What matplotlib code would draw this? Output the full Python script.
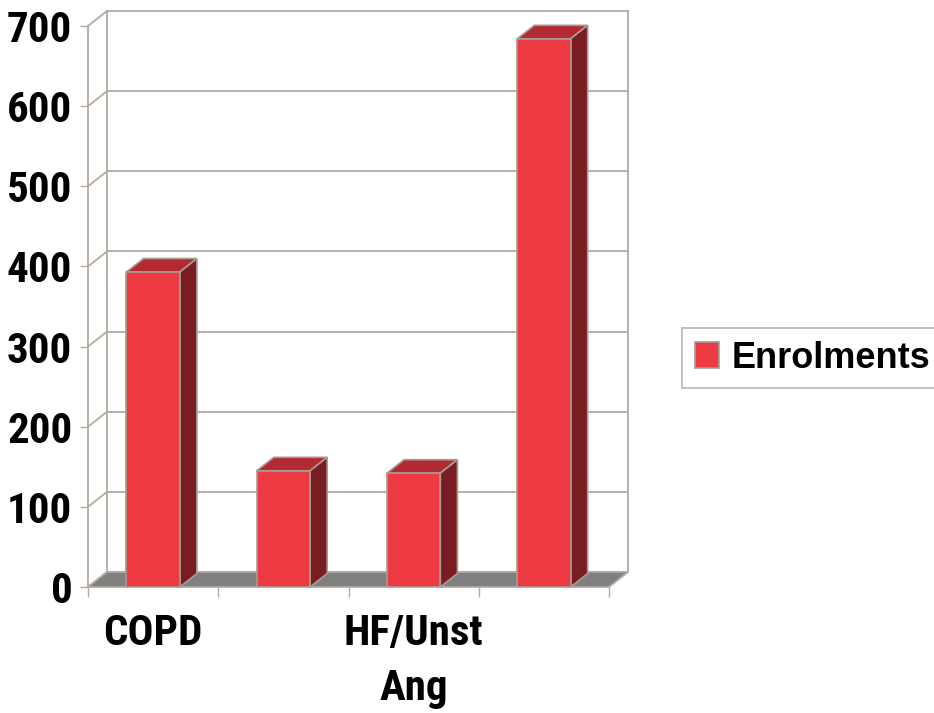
import matplotlib
matplotlib.use("Agg")
import matplotlib.pyplot as plt
from matplotlib.patches import Patch

# ---- data ----
categories = ["COPD", "", "HF/Unst\nAng", ""]
enrolments = [393, 145, 142, 684]
series_name = "Enrolments"
y_ticks = [0, 100, 200, 300, 400, 500, 600, 700]

# ---- style ----
FRONT = "#EE3A43"
TOP = "#B42A32"
SIDE = "#7A1D22"
EDGE = "#A59C92"
GRID = "#B3AAA0"
FLOOR = "#808080"
NARROW = ["Roboto Condensed", "Liberation Sans", "DejaVu Sans"]

W, H = 934, 713
fig = plt.figure(figsize=(W / 100, H / 100), dpi=100)
# axes covering front plane + depth region (pixels: x 88..628, y 11..587)
ax = fig.add_axes([88 / W, (H - 587) / H, 540 / W, 576 / H])

n = len(categories)
ymax = y_ticks[-1]
dx = 19 * n / 521.0          # depth offset in x data units
dy = 15 * ymax / 561.0       # depth offset in y data units
ax.set_xlim(0, n + dx)
ax.set_ylim(0, ymax + dy)
for s in ax.spines.values():
    s.set_visible(False)

# back wall gridlines and left wall diagonals
for v in y_ticks:
    ax.plot([dx, n + dx], [v + dy, v + dy], color=GRID, lw=1.3, zorder=1, clip_on=False)
    ax.plot([0, dx], [v, v + dy], color=GRID, lw=1.3, zorder=1, clip_on=False)
ax.plot([dx, dx], [dy, ymax + dy], color=GRID, lw=1.3, zorder=1, clip_on=False)
ax.plot([n + dx, n + dx], [dy, ymax + dy], color=GRID, lw=1.3, zorder=1, clip_on=False)
ax.plot([0, 0], [0, ymax], color=GRID, lw=1.3, zorder=1, clip_on=False)

# floor
ax.fill([0, n, n + dx, dx], [0, 0, dy, dy], facecolor=FLOOR, edgecolor=GRID, lw=1.3, zorder=2, clip_on=False)

# bars
centers = [i + 0.5 for i in range(n)]
bw = 0.41
bdx = dx * 0.9
bdy = dy * 0.9
for c, v in zip(centers, enrolments):
    x0, x1 = c - bw / 2, c + bw / 2
    ax.fill([x0, x1, x1 + bdx, x0 + bdx], [v, v, v + bdy, v + bdy],
            facecolor=TOP, edgecolor=EDGE, lw=1.2, zorder=3, clip_on=False)
    ax.fill([x1, x1 + bdx, x1 + bdx, x1], [0, bdy, v + bdy, v],
            facecolor=SIDE, edgecolor=EDGE, lw=1.2, zorder=3, clip_on=False)
ax.bar(centers, enrolments, width=bw, color=FRONT, edgecolor=EDGE, lw=1.2, zorder=4)

# y ticks
ax.set_yticks(y_ticks)
ax.set_yticklabels([str(t) for t in y_ticks])
ax.tick_params(axis="y", length=5.8, width=1.0, color=GRID, pad=5.5)
for lab in ax.get_yticklabels():
    lab.set_fontfamily(NARROW)
    lab.set_fontweight("bold")
    lab.set_fontsize(31)

# x ticks: major at slot boundaries, minor (labels) at centers
ax.set_xticks(list(range(n + 1)))
ax.set_xticklabels([""] * (n + 1))
ax.tick_params(axis="x", which="major", length=7.2, width=1.0, color=GRID)
ax.set_xticks(centers, minor=True)
ax.set_xticklabels(categories, minor=True)
ax.tick_params(axis="x", which="minor", length=0, pad=18.5)
for lab in ax.get_xticklabels(minor=True):
    lab.set_fontfamily(NARROW)
    lab.set_fontweight("bold")
    lab.set_fontsize(31)
    lab.set_linespacing(1.45)

# legend
handle = Patch(facecolor=FRONT, edgecolor=EDGE, lw=1.2)
leg = fig.legend([handle], [series_name], loc="center left",
                 bbox_to_anchor=(682 / W, (H - 358) / H),
                 prop={"family": ["Liberation Sans", "DejaVu Sans"], "weight": "bold", "size": 26},
                 frameon=True, fancybox=False, shadow=False,
                 handlelength=0.67, handleheight=0.75, handletextpad=0.35,
                 borderpad=0.35, borderaxespad=0)
leg.get_frame().set_edgecolor(GRID)
leg.get_frame().set_linewidth(1.3)

fig.savefig("out.png", dpi=100)
